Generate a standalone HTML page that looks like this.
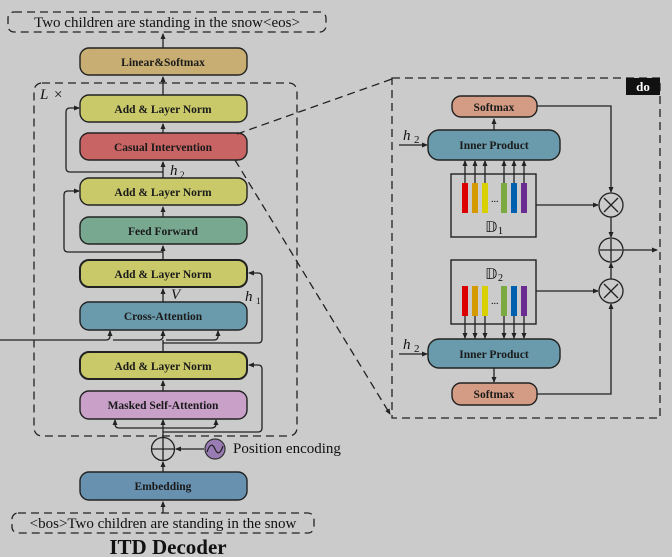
<!DOCTYPE html>
<html><head><style>
html,body{margin:0;padding:0;background:#cbcbcb;}
svg{display:block;}
.b{font-family:"Liberation Serif",serif;font-weight:bold;font-size:11.5px;fill:#1a1a1a;text-anchor:middle;}
.t{font-family:"Liberation Serif",serif;font-size:15px;fill:#111;}
.l{stroke:#222;stroke-width:1.3;fill:none;}
.d{stroke:#222;stroke-width:1.3;fill:none;stroke-dasharray:8,5;}
.bx{stroke:#222;stroke-width:1.4;}
</style></head><body>
<svg width="672" height="557" viewBox="0 0 672 557" xmlns="http://www.w3.org/2000/svg">
<defs><marker id="a" markerWidth="6" markerHeight="6" refX="5" refY="3" orient="auto" markerUnits="userSpaceOnUse"><path d="M0,0.5 L6,3 L0,5.5z" fill="#222"/></marker></defs>
<rect width="672" height="557" fill="#cbcbcb"/>
<rect x="8" y="12" width="318" height="20" rx="6" class="d"/>
<text x="167" y="27" class="t" text-anchor="middle">Two children are standing in the snow&lt;eos&gt;</text>
<line x1="163" y1="48" x2="163" y2="34" class="l" marker-end="url(#a)"/>
<rect x="80" y="48" width="167" height="27" rx="9" fill="#c8ae72" class="bx"/>
<text x="163" y="66" class="b">Linear&amp;Softmax</text>
<rect x="34" y="83" width="263" height="353" rx="8" class="d"/>
<text x="40" y="99" class="t" font-style="italic">L</text><text x="54" y="99" class="t">×</text>
<line x1="163" y1="95" x2="163" y2="77" class="l" marker-end="url(#a)"/>
<rect x="80" y="95" width="167" height="27" rx="9" fill="#c9c96a" class="bx"/>
<text x="163" y="113" class="b">Add &amp; Layer Norm</text>
<line x1="163" y1="133" x2="163" y2="124" class="l" marker-end="url(#a)"/>
<rect x="80" y="133" width="167" height="27" rx="9" fill="#c96464" class="bx"/>
<text x="163" y="151" class="b">Casual Intervention</text>
<line x1="163" y1="178" x2="163" y2="162" class="l" marker-end="url(#a)"/>
<text x="170" y="175" class="t" font-style="italic">h</text><text x="180" y="178" font-family="Liberation Serif" font-size="9" fill="#111">2</text>
<path d="M163,172 H70 Q66,172 66,168 V112 Q66,108 70,108 H79" class="l" marker-end="url(#a)"/>
<rect x="80" y="178" width="167" height="27" rx="9" fill="#c9c96a" class="bx"/>
<text x="163" y="196" class="b">Add &amp; Layer Norm</text>
<line x1="163" y1="217" x2="163" y2="207" class="l" marker-end="url(#a)"/>
<rect x="80" y="217" width="167" height="27" rx="9" fill="#78a890" class="bx"/>
<text x="163" y="235" class="b">Feed Forward</text>
<line x1="163" y1="259" x2="163" y2="246" class="l" marker-end="url(#a)"/>
<path d="M163,252 H68 Q64,252 64,248 V195 Q64,191 68,191 H79" class="l" marker-end="url(#a)"/>
<rect x="80" y="260" width="167" height="27" rx="9" fill="#c9c96a" stroke="#222" stroke-width="2"/>
<text x="163" y="278" class="b">Add &amp; Layer Norm</text>
<line x1="163" y1="302" x2="163" y2="289" class="l" marker-end="url(#a)"/>
<text x="171" y="299" class="t" font-style="italic">V</text>
<text x="245" y="301" class="t" font-style="italic">h</text><text x="256" y="304" font-family="Liberation Serif" font-size="9" fill="#111">1</text>
<rect x="80" y="302" width="167" height="28" rx="9" fill="#6a9bac" class="bx"/>
<text x="163" y="320" class="b">Cross-Attention</text>
<path d="M0,340 H106 Q110,340 110,336 V331" class="l" marker-end="url(#a)"/>
<path d="M113,340 H159 Q163,340 163,336 V331" class="l" marker-end="url(#a)"/>
<path d="M166,340 H214 Q218,340 218,336 V331" class="l" marker-end="url(#a)"/>
<line x1="163" y1="352" x2="163" y2="340" class="l"/>
<path d="M163,343 H258 Q262,343 262,339 V277 Q262,273 258,273 H249" class="l" marker-end="url(#a)"/>
<rect x="80" y="352" width="167" height="27" rx="9" fill="#c9c96a" stroke="#222" stroke-width="2"/>
<text x="163" y="370" class="b">Add &amp; Layer Norm</text>
<line x1="163" y1="391" x2="163" y2="381" class="l" marker-end="url(#a)"/>
<rect x="80" y="391" width="167" height="28" rx="9" fill="#c8a0c8" class="bx"/>
<text x="163" y="409" class="b">Masked Self-Attention</text>
<line x1="163" y1="437" x2="163" y2="420" class="l" marker-end="url(#a)"/>
<path d="M119,428 H211 Q216,428 216,424 V420" class="l" marker-end="url(#a)"/>
<path d="M119,428 Q115,428 115,424 V420" class="l" marker-end="url(#a)"/>
<path d="M163,432 H258 Q262,432 262,428 V369 Q262,365 258,365 H249" class="l" marker-end="url(#a)"/>
<circle cx="163" cy="449" r="11.5" fill="#cbcbcb" class="l"/>
<path d="M152,449 H174 M163,438 V460" class="l"/>
<line x1="204" y1="449" x2="176" y2="449" class="l" marker-end="url(#a)"/>
<circle cx="215" cy="449" r="10" fill="#9a7cb4" stroke="#333" stroke-width="1.2"/>
<path d="M207,452 Q211,440 215,449 Q219,458 223,446" stroke="#222" stroke-width="1.2" fill="none"/>
<text x="233" y="453" class="t" font-size="12.5">Position encoding</text>
<line x1="163" y1="472" x2="163" y2="462" class="l" marker-end="url(#a)"/>
<rect x="80" y="472" width="167" height="28" rx="9" fill="#6891b0" class="bx"/>
<text x="163" y="490" class="b">Embedding</text>
<line x1="163" y1="513" x2="163" y2="502" class="l" marker-end="url(#a)"/>
<rect x="12" y="513" width="302" height="20" rx="6" class="d"/>
<text x="163" y="528" class="t" text-anchor="middle">&lt;bos&gt;Two children are standing in the snow</text>
<text x="168" y="554" font-family="Liberation Serif" font-weight="bold" font-size="21" fill="#111" text-anchor="middle">ITD Decoder</text>
<line x1="237" y1="134" x2="392" y2="79" class="d" stroke-dasharray="7,5"/>
<line x1="235" y1="160" x2="390" y2="414" class="d" stroke-dasharray="7,5" marker-end="url(#a)"/>
<rect x="392" y="78" width="268" height="340" class="d"/>
<rect x="626" y="78" width="34" height="17" fill="#111"/>
<text x="643" y="91" font-family="Liberation Serif" font-weight="bold" font-size="13" fill="#fff" text-anchor="middle">do</text>
<rect x="452" y="96" width="85" height="21" rx="9" fill="#d49c84" class="bx"/>
<text x="494" y="111" class="b">Softmax</text>
<line x1="494" y1="130" x2="494" y2="119" class="l" marker-end="url(#a)"/>
<rect x="428" y="130" width="132" height="30" rx="11" fill="#6a9bac" class="bx"/>
<text x="494" y="149" class="b">Inner Product</text>
<text x="403" y="140" class="t" font-style="italic" font-size="17">h</text><text x="414" y="143" font-family="Liberation Serif" font-size="11" fill="#111">2</text>
<line x1="399" y1="145" x2="427" y2="145" class="l" marker-end="url(#a)"/>
<rect x="451" y="174" width="85" height="63" fill="none" class="bx"/>
<g>
<rect x="462" y="183" width="6" height="30" fill="#d00"/>
<rect x="472" y="183" width="6" height="30" fill="#d49a00"/>
<rect x="482" y="183" width="6" height="30" fill="#d8d000"/>
<rect x="501" y="183" width="6" height="30" fill="#7aaa40"/>
<rect x="511" y="183" width="6" height="30" fill="#0060b0"/>
<rect x="521" y="183" width="6" height="30" fill="#6a2c90"/>
<text x="491" y="202" font-size="10" font-family="Liberation Serif">...</text>
<text x="485" y="232" class="t" font-size="15">𝔻</text><text x="498" y="234" font-family="Liberation Serif" font-size="10">1</text>
</g>
<g class="l" marker-end="url(#a)">
<line x1="465" y1="183" x2="465" y2="161"/><line x1="475" y1="183" x2="475" y2="161"/><line x1="485" y1="183" x2="485" y2="161"/>
<line x1="504" y1="183" x2="504" y2="161"/><line x1="514" y1="183" x2="514" y2="161"/><line x1="524" y1="183" x2="524" y2="161"/>
</g>
<rect x="451" y="260" width="85" height="64" fill="none" class="bx"/>
<g>
<rect x="462" y="286" width="6" height="30" fill="#d00"/>
<rect x="472" y="286" width="6" height="30" fill="#d49a00"/>
<rect x="482" y="286" width="6" height="30" fill="#d8d000"/>
<rect x="501" y="286" width="6" height="30" fill="#7aaa40"/>
<rect x="511" y="286" width="6" height="30" fill="#0060b0"/>
<rect x="521" y="286" width="6" height="30" fill="#6a2c90"/>
<text x="491" y="304" font-size="10" font-family="Liberation Serif">...</text>
<text x="485" y="279" class="t" font-size="15">𝔻</text><text x="498" y="281" font-family="Liberation Serif" font-size="10">2</text>
</g>
<g class="l" marker-end="url(#a)">
<line x1="465" y1="316" x2="465" y2="338"/><line x1="475" y1="316" x2="475" y2="338"/><line x1="485" y1="316" x2="485" y2="338"/>
<line x1="504" y1="316" x2="504" y2="338"/><line x1="514" y1="316" x2="514" y2="338"/><line x1="524" y1="316" x2="524" y2="338"/>
</g>
<rect x="428" y="339" width="132" height="29" rx="11" fill="#6a9bac" class="bx"/>
<text x="494" y="358" class="b">Inner Product</text>
<text x="403" y="349" class="t" font-style="italic" font-size="17">h</text><text x="414" y="352" font-family="Liberation Serif" font-size="11" fill="#111">2</text>
<line x1="399" y1="354" x2="427" y2="354" class="l" marker-end="url(#a)"/>
<line x1="494" y1="368" x2="494" y2="382" class="l" marker-end="url(#a)"/>
<rect x="452" y="383" width="85" height="22" rx="9" fill="#d49c84" class="bx"/>
<text x="494" y="398" class="b">Softmax</text>
<path d="M537,106 H611 V192" class="l" marker-end="url(#a)"/>
<line x1="536" y1="205" x2="598" y2="205" class="l" marker-end="url(#a)"/>
<circle cx="611" cy="205" r="12" fill="#cbcbcb" class="l"/>
<path d="M604,198 L618,212 M618,198 L604,212" class="l"/>
<line x1="611" y1="217" x2="611" y2="237" class="l" marker-end="url(#a)"/>
<circle cx="611" cy="250" r="12" fill="#cbcbcb" class="l"/>
<path d="M600,250 H622 M611,239 V261" class="l"/>
<line x1="623" y1="250" x2="657" y2="250" class="l" marker-end="url(#a)"/>
<line x1="611" y1="279" x2="611" y2="263" class="l" marker-end="url(#a)"/>
<line x1="536" y1="291" x2="598" y2="291" class="l" marker-end="url(#a)"/>
<circle cx="611" cy="291" r="12" fill="#cbcbcb" class="l"/>
<path d="M604,284 L618,298 M618,284 L604,298" class="l"/>
<path d="M537,394 H611 V304" class="l" marker-end="url(#a)"/>
</svg>
</body></html>
